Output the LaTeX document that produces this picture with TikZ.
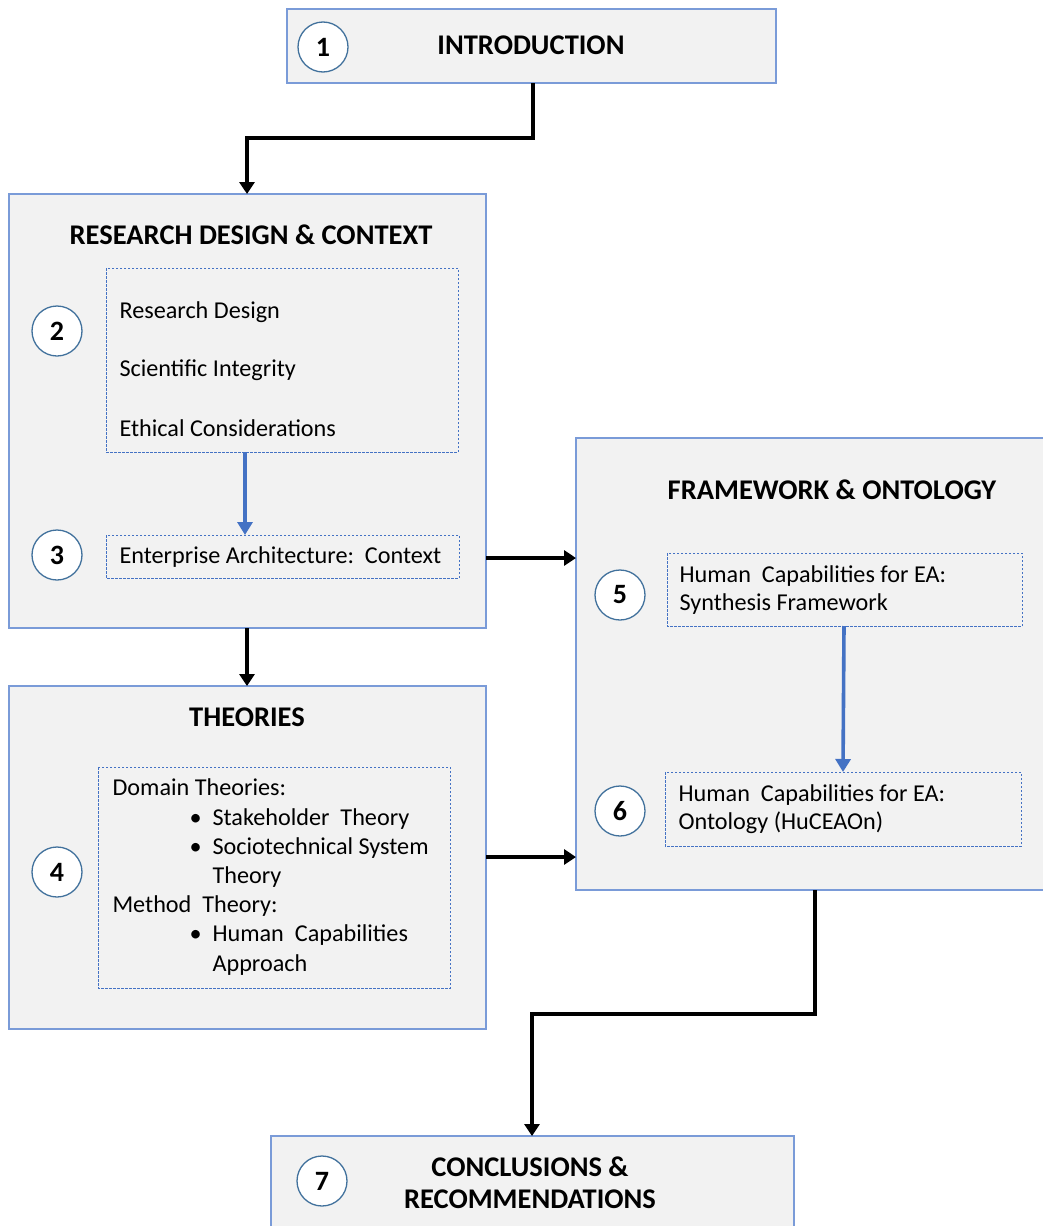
\documentclass[tikz,border=0pt]{standalone}
\usepackage{fontspec}
\setmainfont{Carlito}
\usetikzlibrary{arrows.meta}
\definecolor{boxfill}{HTML}{F2F2F2}
\definecolor{boxline}{HTML}{7A9BD8}
\definecolor{circline}{HTML}{41719C}
\definecolor{bluearrow}{HTML}{4472C4}
\begin{document}
\begin{tikzpicture}[x=1pt,y=-1pt,
  outerbox/.style={draw=boxline,fill=boxfill,line width=1.3pt},
  innerbox/.style={draw=bluearrow,dash pattern=on 2.5pt off 1.5pt,line width=0.9pt},
  numcirc/.style={circle,draw=circline,fill=white,line width=1.3pt,minimum size=50pt,inner sep=0pt,font=\fontsize{28}{30}\selectfont\bfseries},
  headtxt/.style={font=\fontsize{28.5}{32}\selectfont\bfseries,align=center},
  bodytxt/.style={font=\fontsize{24.2}{28}\selectfont,align=left,anchor=west},
  blackarrow/.style={line width=4pt,-{Triangle[length=12pt,width=15pt]}},
  bluearr/.style={draw=bluearrow,line width=3.6pt,-{Triangle[length=13pt,width=15pt]}}
]
\useasboundingbox (0,0) rectangle (1042,1226);
% outer boxes
\path[outerbox] (287,9) rectangle (776,83);
\path[outerbox] (9,194) rectangle (486,628);
\path[outerbox] (576,438) rectangle (1050,890);
\path[outerbox] (9,686) rectangle (486,1029);
\path[outerbox] (271,1136) rectangle (794,1240);
% named anchors for outer boxes
\coordinate (b1s) at (533,83);
\coordinate (b2n) at (247,194);
\coordinate (b2s) at (247,628);
\coordinate (b2e) at (486,558);
\coordinate (b4n) at (247,686);
\coordinate (b4e) at (486,857);
\coordinate (b5w3) at (576,558);
\coordinate (b5w4) at (576,857);
\coordinate (b5s) at (815,890);
\coordinate (b7n) at (532,1136);
% headings
\node[headtxt] (t1) at (531,45) {INTRODUCTION};
\node[headtxt] (t2) at (251,235) {RESEARCH DESIGN \& CONTEXT};
\node[headtxt] (t5) at (832,490) {FRAMEWORK \& ONTOLOGY};
\node[headtxt] (t4) at (247,717) {THEORIES};
\node[headtxt] (t7) at (530,1183) {CONCLUSIONS \&\\RECOMMENDATIONS};
% inner dashed boxes
\path[innerbox] (106,268) rectangle (458,452);
\path[innerbox] (106,535) rectangle (459,578);
\path[innerbox] (667,553) rectangle (1022,626);
\path[innerbox] (665,772) rectangle (1021,846);
\path[innerbox] (98,767) rectangle (450,988);
\coordinate (iAs) at (245,452);
\coordinate (iBn) at (245,535);
\coordinate (i5s) at (844,626);
\coordinate (i6n) at (843,772);
% inner texts
\node[bodytxt] (r1) at (116,312) {Research Design};
\node[bodytxt] (r2) at (116,370) {Scientific Integrity};
\node[bodytxt] (r3) at (116,428) {Ethical Considerations};
\node[bodytxt] (r4) at (116,557) {Enterprise Architecture:\ \ Context};
\node[bodytxt] (r5) at (676,590) {Human\ \ Capabilities for EA:\\Synthesis Framework};
\node[bodytxt] (r6) at (675,809) {Human\ \ Capabilities for EA:\\Ontology (HuCEAOn)};
\node[bodytxt,font=\fontsize{24.2}{29.2}\selectfont] (r7) at (109,877) {%
Domain Theories:\\
\hspace{77pt}\makebox[23pt][l]{\textbullet}Stakeholder\ \ Theory\\
\hspace{77pt}\makebox[23pt][l]{\textbullet}Sociotechnical System\\
\hspace{100pt}Theory\\
Method\ \ Theory:\\
\hspace{77pt}\makebox[23pt][l]{\textbullet}Human\ \ Capabilities\\
\hspace{100pt}Approach};
% number circles
\node[numcirc] (c1) at (323,47) {1};
\node[numcirc] (c2) at (57,331) {2};
\node[numcirc] (c3) at (57,555) {3};
\node[numcirc] (c4) at (57,872) {4};
\node[numcirc] (c5) at (620,595) {5};
\node[numcirc] (c6) at (620,811) {6};
\node[numcirc] (c7) at (322,1181) {7};
% connectors
\draw[blackarrow] (b1s) -- (533,138) -| (b2n);
\draw[blackarrow] (b2s) -- (b4n);
\draw[blackarrow] (b2e) -- (b5w3);
\draw[blackarrow] (b4e) -- (b5w4);
\draw[blackarrow] (b5s) -- (815,1014) -| (b7n);
\draw[bluearr] (iAs) -- (iBn);
\draw[bluearr] (i5s) -- (i6n);
\end{tikzpicture}
\end{document}
